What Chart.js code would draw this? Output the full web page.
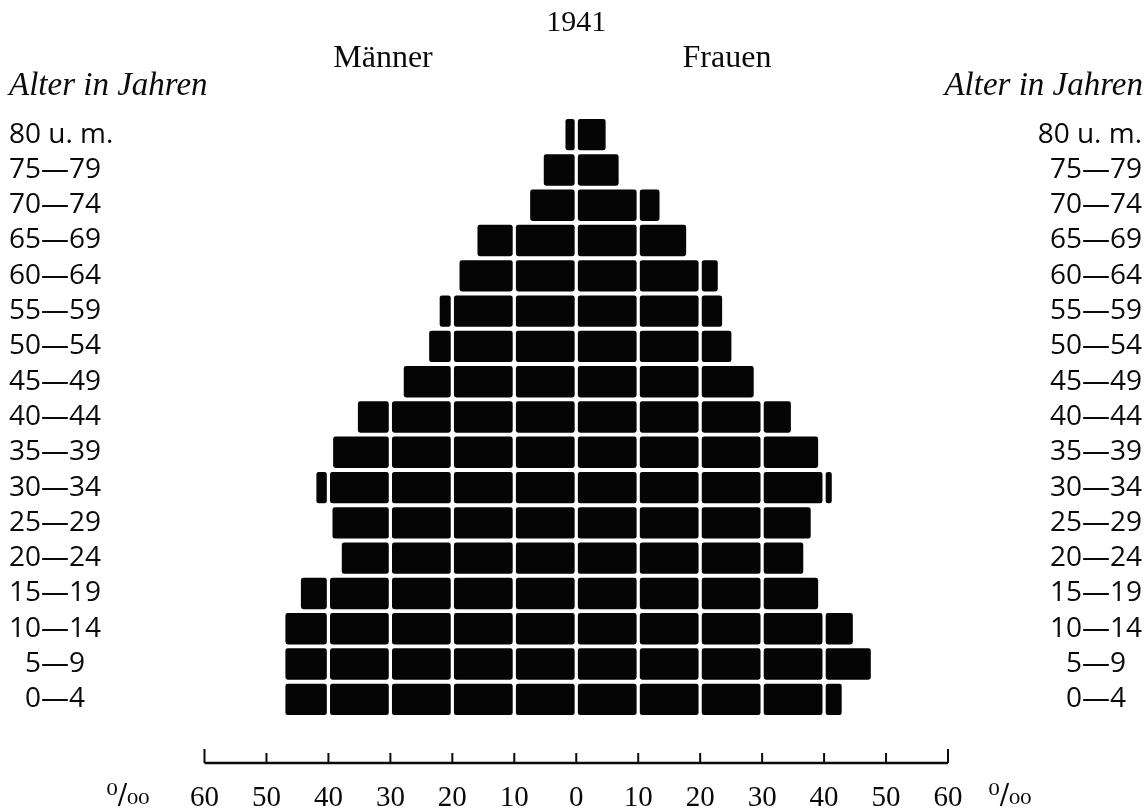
<!DOCTYPE html>
<html>
<head>
<meta charset="utf-8">
<script src="https://cdn.jsdelivr.net/npm/chart.js@4/dist/chart.umd.min.js"></script>
<style>
html, body { margin: 0; padding: 0; background: #fff; }
#wrap { width: 1146px; height: 812px; }
</style>
</head>
<body>
<div id="wrap"><canvas id="pyramid" width="1146" height="812"></canvas></div>
<script>
var ageGroups = ["80 u. m.", "75—79", "70—74", "65—69", "60—64", "55—59", "50—54", "45—49",
  "40—44", "35—39", "30—34", "25—29", "20—24", "15—19", "10—14", "5—9", "0—4"];
// per mille
var maenner = [2, 5.5, 7.7, 16.2, 19.1, 22.3, 24, 28.1, 35.5, 39.5, 42.2, 39.6, 38.1, 44.7, 47.2, 47.2, 47.2];
var frauen = [5, 7.1, 13.7, 18, 23.1, 23.8, 25.3, 28.9, 34.9, 39.3, 41.5, 38.1, 36.9, 39.3, 44.9, 47.8, 43.1];
var tickValues = [-60, -50, -40, -30, -20, -10, 0, 10, 20, 30, 40, 50, 60];
var blockSize = 10;

// every bar is cut into blocks of 10 per mille
function blocks(values, sign, k) {
  return values.map(function (v) {
    var part = Math.min(blockSize, Math.max(0, v - k * blockSize));
    if (part <= 0) return null;
    var a = sign * k * blockSize, b = sign * (k * blockSize + part);
    return [Math.min(a, b), Math.max(a, b)];
  });
}

function padLabel(label, side) {
  if (/^\d—\d$/.test(label)) return side === 'left' ? '\u2007' + label : label + '\u2007';
  return label;
}

var datasets = [];
for (var k = 0; k < 5; k++) {
  [[maenner, -1], [frauen, 1]].forEach(function (s) {
    datasets.push({
      data: blocks(s[0], s[1], k),
      backgroundColor: "#050505",
      borderColor: "#fff",
      borderWidth: 1.6,
      borderSkipped: false,
      borderRadius: 4,
      grouped: false,
      barPercentage: 0.98,
      categoryPercentage: 1
    });
  });
}

var frame = {
  id: 'frame',
  afterDraw: function (chart) {
    var ctx = chart.ctx, x = chart.scales.x;
    var axisY = 763;
    ctx.save();
    ctx.fillStyle = "#0a0a0a";
    ctx.strokeStyle = "#0a0a0a";
    ctx.textBaseline = "alphabetic";
    ctx.textAlign = "center";
    ctx.font = '30px "Liberation Serif"';
    ctx.fillText("1941", x.getPixelForValue(0), 31);
    ctx.font = '32px "Liberation Serif"';
    ctx.fillText("Männer", 383, 67);
    ctx.fillText("Frauen", 727, 67);
    ctx.font = 'italic 33px "Liberation Serif"';
    ctx.textAlign = "left";
    ctx.fillText("Alter in Jahren", 9, 95);
    ctx.textAlign = "right";
    ctx.fillText("Alter in Jahren", 1143, 95);

    var first = x.getPixelForValue(tickValues[0]);
    var last = x.getPixelForValue(tickValues[tickValues.length - 1]);
    ctx.lineWidth = 2.5;
    ctx.beginPath();
    ctx.moveTo(first, axisY);
    ctx.lineTo(last, axisY);
    ctx.stroke();
    ctx.lineWidth = 2;
    ctx.textAlign = "center";
    ctx.font = '29px "Liberation Serif"';
    tickValues.forEach(function (v, i) {
      var px = x.getPixelForValue(v);
      var len = (i === 0 || i === tickValues.length - 1) ? 14 : 10;
      ctx.beginPath();
      ctx.moveTo(px, axisY);
      ctx.lineTo(px, axisY - len);
      ctx.stroke();
      ctx.fillText(String(Math.abs(v)), px, 806);
    });
    ctx.font = '28px "DejaVu Serif"';
    ctx.fillText("\u2070/\u2080\u2080", 128, 804);
    ctx.fillText("\u2070/\u2080\u2080", 1010, 804);
    ctx.restore();
  }
};

var ctx = document.getElementById("pyramid");
var myChart = new Chart(ctx, {
  type: 'bar',
  data: { labels: ageGroups, datasets: datasets },
  plugins: [frame],
  options: {
    indexAxis: 'y',
    responsive: false,
    animation: false,
    devicePixelRatio: 1,
    layout: { padding: { left: 9, right: 4, top: 117, bottom: 95 } },
    plugins: { legend: { display: false }, tooltip: { enabled: false } },
    scales: {
      x: { type: 'linear', min: -60, max: 60, display: false },
      y: {
        type: 'category',
        position: 'left',
        grid: { display: false },
        border: { display: false },
        afterFit: function (scale) { scale.width = 195.5; },
        ticks: {
          autoSkip: false,
          crossAlign: 'far',
          padding: 0,
          color: "#0a0a0a",
          font: { family: "Open Sans", size: 28 },
          callback: function (value, i) { return padLabel(ageGroups[i], 'left'); }
        }
      },
      y2: {
        type: 'category',
        position: 'right',
        labels: ageGroups,
        grid: { display: false },
        border: { display: false },
        afterFit: function (scale) { scale.width = 194; },
        ticks: {
          autoSkip: false,
          crossAlign: 'far',
          padding: 0,
          color: "#0a0a0a",
          font: { family: "Open Sans", size: 28 },
          callback: function (value, i) { return padLabel(ageGroups[i], 'right'); }
        }
      }
    }
  }
});
</script>
</body>
</html>
